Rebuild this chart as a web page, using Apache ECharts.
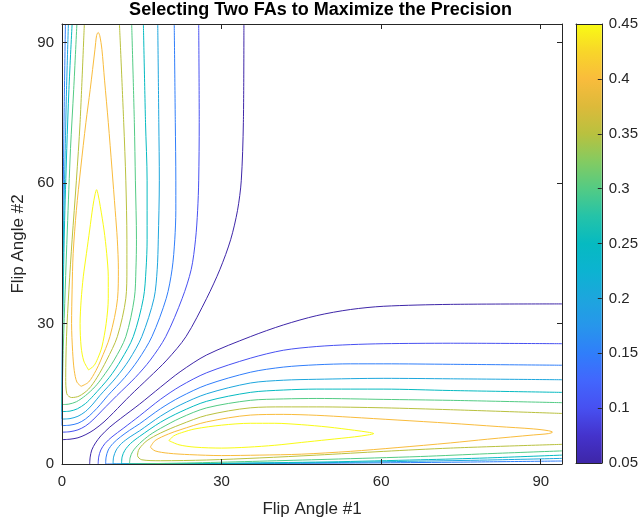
<!DOCTYPE html>
<html>
<head>
<meta charset="utf-8">
<script src="https://cdn.jsdelivr.net/npm/echarts@6/dist/echarts.min.js"></script>
<style>
  html, body { margin: 0; padding: 0; background: #fff; }
  #chart { width: 641px; height: 524px; }
</style>
</head>
<body>
<div id="chart"></div>
<script>
// Contour levels of the precision map and the colour-bar ticks
const levels = [0.05, 0.10, 0.15, 0.20, 0.25, 0.30, 0.35, 0.40, 0.45];
const angleTicks = [0, 30, 60, 90];
const barTicks = [0.05, 0.10, 0.15, 0.20, 0.25, 0.30, 0.35, 0.40, 0.45];

// Lower lobe contours, [flip angle #1, flip angle #2]
const lo05 = [[5.2,0],[5.3,1.5],[5.6,3],[6.3,4.5],[7.3,6],[9,7.9],[11,9.7],[14.6,12.8],[18.5,16.4],[22.2,19.7],[27.2,23.3],[35.4,27.2],[41.6,29.7],[47.9,31.7],[54.2,33],[60.5,33.7],[73,34.1],[94,34.2]];
const lo10 = [[6.8,0],[6.9,1.5],[7.3,3],[8.1,4.4],[9.4,5.8],[11.5,7.6],[14.6,10.3],[18.5,13.8],[22.2,16.6],[27.2,19.5],[35.4,22.6],[41.6,24.3],[47.9,25.1],[54.2,25.5],[60.5,25.7],[73,25.8],[94,25.7]];
const lo15 = [[94,0.64],[75,0.4],[60,0.25],[40,0.12],[20,0.05],[8.2,0],[8.3,1.5],[8.7,3],[9.6,4.4],[11,5.8],[12.7,7.2],[14.6,8.6],[18.5,11.8],[22.2,14.3],[27.2,16.9],[35.4,19.6],[41.6,20.7],[47.9,21.2],[54.2,21.4],[60.5,21.4],[73,21.3],[94,21.1]];
const lo20 = [[94,1.2],[80,0.85],[67,0.6],[50,0.3],[30,0.1],[9.6,0],[9.7,1.5],[10.2,3],[11.2,4.4],[12.8,5.8],[14.6,7.1],[18.5,10.2],[22.2,12.6],[27.2,15],[35.4,17.3],[41.6,17.9],[47.9,18.1],[60.5,18.3],[73,18.2],[94,18]];
const lo25 = [[94,1.9],[80,1.3],[67.4,0.9],[50,0.45],[30,0.15],[11.2,0],[11.3,1.5],[11.8,2.9],[12.9,4.4],[14.6,5.9],[18.5,8.9],[22.2,11.1],[27.2,13.4],[35.4,15.3],[41.6,15.8],[47.9,16],[60.5,16],[73,15.7],[94,15.3]];
const lo30 = [[94,2.8],[80,2.2],[67.4,1.6],[50,1],[37.2,0.6],[25,0.25],[12.7,0],[12.8,1.3],[13.3,2.7],[14.6,4.4],[16.5,6.2],[18.5,7.6],[22.2,9.8],[27.2,12],[35.4,13.6],[41.6,13.9],[47.9,14],[60.5,13.8],[73,13.6],[94,13.1]];
const lo35 = [[94,4.2],[73,3.4],[60.5,2.7],[47.9,1.9],[37.2,1.3],[27.2,0.85],[18.5,0.7],[15,0.9],[14.2,1.8],[14.5,3.2],[16,5],[18.5,6.6],[22.2,8.4],[27.2,10.4],[35.4,12],[41.6,12.2],[47.9,12.2],[60.5,12],[73,11.6],[94,10.8]];
const lo40 = [[16.6,3.6],[17.5,5],[20,6.4],[22.2,7.3],[27.2,9],[35.4,10.45],[41.6,10.6],[47.9,10.4],[54.2,10],[63,9.4],[73,8.7],[82,8],[88.6,7.5],[91.5,7.1],[92.2,6.8],[91.5,6.5],[88.6,6.2],[80,5.3],[73,4.5],[63,3.5],[54.2,2.7],[45,2.1],[37.2,1.9],[30,1.8],[24,2],[20,2.3],[17.5,2.8],[16.6,3.6]];
const lo45 = [[20.1,5],[21,6],[22.5,6.7],[25,7.5],[30,8.3],[35.4,8.7],[40,8.7],[45,8.4],[50,7.9],[55,7.2],[57.5,6.8],[58.6,6.5],[57.5,6.2],[55,5.8],[50,5.2],[45,4.6],[40,4],[35,3.6],[30,3.4],[25,3.6],[22,4.1],[20.1,5]];

// Upper lobe contours, [flip angle #1, flip angle #2]
const up05 = [[0,5.2],[1.5,5.3],[3,5.6],[4.5,6.3],[6,7.3],[7.9,9],[9.7,11],[12.8,14.6],[16.4,18.5],[19.7,22.2],[23.3,27.2],[27.2,35.4],[29.7,41.6],[31.7,47.9],[33,54.2],[33.7,60.5],[34.1,73],[34.2,94]];
const up10 = [[0,6.8],[1.5,6.9],[3,7.3],[4.4,8.1],[5.8,9.4],[7.6,11.5],[10.3,14.6],[13.8,18.5],[16.6,22.2],[19.5,27.2],[22.6,35.4],[24.3,41.6],[25.1,47.9],[25.5,54.2],[25.7,60.5],[25.8,73],[25.7,94]];
const up15 = [[0.64,94],[0.4,75],[0.25,60],[0.12,40],[0.05,20],[0,8.2],[1.5,8.3],[3,8.7],[4.4,9.6],[5.8,11],[7.2,12.7],[8.6,14.6],[11.8,18.5],[14.3,22.2],[16.9,27.2],[19.6,35.4],[20.7,41.6],[21.2,47.9],[21.4,54.2],[21.4,60.5],[21.3,73],[21.1,94]];
const up20 = [[1.2,94],[0.85,80],[0.6,67],[0.3,50],[0.1,30],[0,9.6],[1.5,9.7],[3,10.2],[4.4,11.2],[5.8,12.8],[7.1,14.6],[10.2,18.5],[12.6,22.2],[15,27.2],[17.3,35.4],[17.9,41.6],[18.1,47.9],[18.3,60.5],[18.2,73],[18,94]];
const up25 = [[1.9,94],[1.3,80],[0.9,67.4],[0.45,50],[0.15,30],[0,11.2],[1.5,11.3],[2.9,11.8],[4.4,12.9],[5.9,14.6],[8.9,18.5],[11.1,22.2],[13.4,27.2],[15.3,35.4],[15.8,41.6],[16,47.9],[16,60.5],[15.7,73],[15.3,94]];
const up30 = [[2.8,94],[2.2,80],[1.6,67.4],[1,50],[0.6,37.2],[0.25,25],[0,12.7],[1.3,12.8],[2.7,13.3],[4.4,14.6],[6.2,16.5],[7.6,18.5],[9.8,22.2],[12,27.2],[13.6,35.4],[13.9,41.6],[14,47.9],[13.8,60.5],[13.6,73],[13.1,94]];
const up35 = [[4.2,94],[3.4,73],[2.7,60.5],[1.9,47.9],[1.3,37.2],[0.85,27.2],[0.7,18.5],[0.9,15],[1.8,14.2],[3.2,14.5],[5,16],[6.6,18.5],[8.4,22.2],[10.4,27.2],[12,35.4],[12.2,41.6],[12.2,47.9],[12,60.5],[11.6,73],[10.8,94]];
const up40 = [[3.6,16.6],[5,17.5],[6.4,20],[7.3,22.2],[9,27.2],[10.45,35.4],[10.6,41.6],[10.4,47.9],[10,54.2],[9.4,63],[8.7,73],[8,82],[7.5,88.6],[7.1,91.5],[6.8,92.2],[6.5,91.5],[6.2,88.6],[5.3,80],[4.5,73],[3.5,63],[2.7,54.2],[2.1,45],[1.9,37.2],[1.8,30],[2,24],[2.3,20],[2.8,17.5],[3.6,16.6]];
const up45 = [[5,20.1],[6,21],[6.7,22.5],[7.5,25],[8.3,30],[8.7,35.4],[8.7,40],[8.4,45],[7.9,50],[7.2,55],[6.8,57.5],[6.5,58.6],[6.2,57.5],[5.8,55],[5.2,50],[4.6,45],[4,40],[3.6,35],[3.4,30],[3.6,25],[4.1,22],[5,20.1]];

const contourSets = [
  { level: 0.05, lines: [lo05, up05] },
  { level: 0.10, lines: [lo10, up10] },
  { level: 0.15, lines: [lo15, up15] },
  { level: 0.20, lines: [lo20, up20] },
  { level: 0.25, lines: [lo25, up25] },
  { level: 0.30, lines: [lo30, up30] },
  { level: 0.35, lines: [lo35, up35] },
  { level: 0.40, lines: [lo40, up40] },
  { level: 0.45, lines: [lo45, up45] }
];

// parula colour map
const parula = [
  [0.0000, '#3E26A8'], [0.0625, '#4433CC'], [0.1250, '#4750F1'], [0.1875, '#4266FD'],
  [0.2500, '#307EFA'], [0.3125, '#2796EB'], [0.3750, '#1DA6DD'], [0.4375, '#0CB3D1'],
  [0.5000, '#06BAC1'], [0.5625, '#25C3A8'], [0.6250, '#53CB84'], [0.6875, '#84CB61'],
  [0.7500, '#B9C13F'], [0.8125, '#DDBA3A'], [0.8750, '#F9BC3C'], [0.9375, '#F8D629'],
  [1.0000, '#F9FB14']
];
function hexToRgb(h) {
  return [parseInt(h.slice(1, 3), 16), parseInt(h.slice(3, 5), 16), parseInt(h.slice(5, 7), 16)];
}
function parulaAt(t) {
  t = Math.max(0, Math.min(1, t));
  for (let i = 1; i < parula.length; i++) {
    if (t <= parula[i][0]) {
      const [t0, c0] = parula[i - 1];
      const [t1, c1] = parula[i];
      const f = (t - t0) / (t1 - t0);
      const a = hexToRgb(c0), b = hexToRgb(c1);
      const m = a.map((v, k) => Math.round(v + (b[k] - v) * f));
      return 'rgb(' + m.join(',') + ')';
    }
  }
  return parula[parula.length - 1][1];
}

const cMin = levels[0], cMax = levels[levels.length - 1];
const ink = '#262626';
const font = 'Liberation Sans, Arial, Helvetica, sans-serif';

const series = [];
contourSets.forEach(set => {
  const color = parulaAt((set.level - cMin) / (cMax - cMin));
  set.lines.forEach(pts => {
    series.push({
      type: 'line', xAxisIndex: 0, yAxisIndex: 0,
      data: pts, symbol: 'none', showSymbol: false, smooth: 0.3,
      lineStyle: { width: 1, color: color }, silent: true, z: 3
    });
  });
});

// colour bar
series.push({
  type: 'line', xAxisIndex: 2, yAxisIndex: 2,
  data: [[0.5, (cMin + cMax) / 2]], symbol: 'none', lineStyle: { width: 0, opacity: 0 },
  silent: true, z: 2,
  markArea: {
    silent: true,
    itemStyle: {
      color: {
        type: 'linear', x: 0, y: 1, x2: 0, y2: 0,
        colorStops: parula.map(([o, c]) => ({ offset: o, color: c }))
      }
    },
    data: [[{ xAxis: 0, yAxis: cMin }, { xAxis: 1, yAxis: cMax }]]
  }
});

function frameAxis(extra) {
  return Object.assign({
    type: 'value', z: 5,
    axisLine: { show: true, onZero: false, lineStyle: { color: ink, width: 1 } },
    axisTick: { show: true, inside: true, length: 5, lineStyle: { color: ink } },
    axisLabel: { show: false },
    splitLine: { show: false }
  }, extra);
}

const option = {
  animation: false,
  backgroundColor: '#fff',
  title: {
    text: 'Selecting Two FAs to Maximize the Precision',
    left: 'center', top: 0, padding: [1, 7, 0, 0],
    textStyle: { fontFamily: font, fontSize: 18, fontWeight: 'bold', color: '#000' }
  },
  grid: [
    { left: 62, top: 24, width: 500, height: 440, show: false },
    { left: 576, top: 24, width: 27, height: 439, show: false }
  ],
  xAxis: [
    frameAxis({
      gridIndex: 0, position: 'bottom', min: 0, max: 94,
      axisTick: { show: true, inside: true, length: 5, lineStyle: { color: ink }, customValues: angleTicks },
      axisLabel: { show: true, customValues: angleTicks, fontFamily: font, fontSize: 15, color: ink, margin: 10 },
      name: 'Flip Angle #1', nameLocation: 'middle', nameGap: 37,
      nameTextStyle: { fontFamily: font, fontSize: 17, color: ink }
    }),
    frameAxis({
      gridIndex: 0, position: 'top', min: 0, max: 94,
      axisTick: { show: true, inside: true, length: 5, lineStyle: { color: ink }, customValues: angleTicks }
    }),
    frameAxis({ gridIndex: 1, position: 'bottom', min: 0, max: 1, axisTick: { show: false } }),
    frameAxis({ gridIndex: 1, position: 'top', min: 0, max: 1, axisTick: { show: false } })
  ],
  yAxis: [
    frameAxis({
      gridIndex: 0, position: 'left', min: 0, max: 94,
      axisTick: { show: true, inside: true, length: 5, lineStyle: { color: ink }, customValues: angleTicks },
      axisLabel: { show: true, customValues: angleTicks, fontFamily: font, fontSize: 15, color: ink, margin: 8 },
      name: 'Flip Angle #2', nameLocation: 'middle', nameGap: 25, nameRotate: 90,
      nameTextStyle: { fontFamily: font, fontSize: 17, color: ink }
    }),
    frameAxis({
      gridIndex: 0, position: 'right', min: 0, max: 94,
      axisTick: { show: true, inside: true, length: 5, lineStyle: { color: ink }, customValues: angleTicks }
    }),
    frameAxis({
      gridIndex: 1, position: 'right', min: cMin, max: cMax,
      axisTick: { show: true, inside: true, length: 4, lineStyle: { color: ink }, customValues: barTicks },
      axisLabel: {
        show: true, customValues: barTicks, fontFamily: font, fontSize: 15, color: ink, margin: 7,
        formatter: v => String(Math.round(v * 100) / 100)
      }
    }),
    frameAxis({ gridIndex: 1, position: 'left', min: cMin, max: cMax, axisTick: { show: false } })
  ],
  series: series
};

const chart = echarts.init(document.getElementById('chart'), null, { renderer: 'canvas' });
chart.setOption(option);
</script>
</body>
</html>
